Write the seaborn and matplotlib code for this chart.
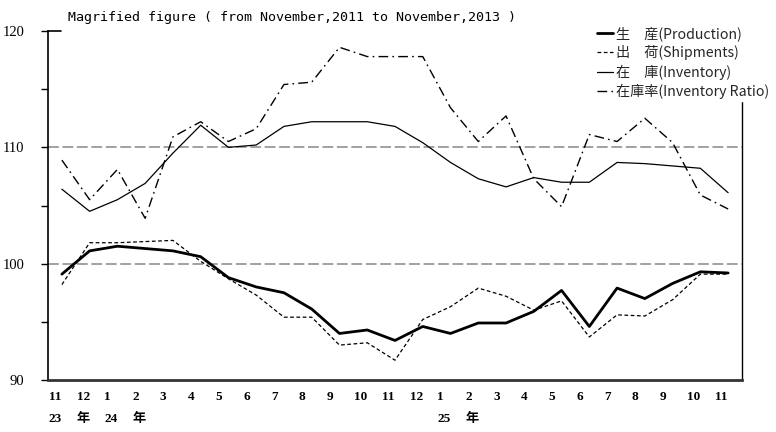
import numpy as np
import pandas as pd
import seaborn as sns
import matplotlib.pyplot as plt
import matplotlib.transforms as mtransforms
from matplotlib.font_manager import FontProperties

# month / year labels under the axis (Nov 2011 .. Nov 2013)
month_labels = ['11', '12', '1', '2', '3', '4', '5', '6', '7', '8', '9', '10', '11',
                '12', '1', '2', '3', '4', '5', '6', '7', '8', '9', '10', '11']
year_labels = ['23', '年', '24', '年', '', '', '', '', '', '', '', '', '',
               '', '25', '年', '', '', '', '', '', '', '', '', '']

production = [99.1, 101.1, 101.5, 101.3, 101.1, 100.6, 98.8, 98.0, 97.5, 96.1, 94.0, 94.3, 93.4,
              94.6, 94.0, 94.9, 94.9, 95.9, 97.7, 94.6, 97.9, 97.0, 98.3, 99.3, 99.2]
shipments = [98.2, 101.8, 101.8, 101.9, 102.0, 100.2, 98.7, 97.3, 95.4, 95.4, 93.0, 93.2, 91.7,
             95.2, 96.3, 97.9, 97.2, 96.0, 96.8, 93.7, 95.6, 95.5, 96.9, 99.1, 99.1]
inventory = [106.4, 104.5, 105.5, 106.9, 109.5, 111.9, 110.0, 110.2, 111.8, 112.2, 112.2, 112.2, 111.8,
             110.4, 108.7, 107.3, 106.6, 107.4, 107.0, 107.0, 108.7, 108.6, 108.4, 108.2, 106.1]
inv_ratio = [108.9, 105.5, 108.1, 103.9, 110.9, 112.2, 110.5, 111.6, 115.4, 115.6, 118.6, 117.8, 117.8,
             117.8, 113.4, 110.5, 112.7, 107.3, 104.9, 111.1, 110.5, 112.5, 110.4, 105.9, 104.7]

series_names = ['生\u3000産(Production)', '出\u3000荷(Shipments)', '在\u3000庫(Inventory)', '在庫率(Inventory Ratio)']

df = pd.DataFrame({'x': np.arange(len(month_labels)),
                   series_names[0]: production,
                   series_names[1]: shipments,
                   series_names[2]: inventory,
                   series_names[3]: inv_ratio})

sns.set_theme(style='white')
plt.rcParams['font.family'] = ['DejaVu Sans', 'Noto Sans CJK JP']

fig = plt.figure(figsize=(7.76, 4.32), dpi=100)
ax = fig.add_axes([48 / 776, 52 / 432, 694 / 776, 349 / 432])

# reference lines
for yv in [100, 110]:
    ax.axhline(yv, color='#9a9a9a', lw=1.3, linestyle=(0, (6, 2)), zorder=1)

styles = [dict(lw=2.0, linestyle='-'),
          dict(lw=0.9, linestyle=(0, (3, 2))),
          dict(lw=0.9, linestyle='-'),
          dict(lw=1.0, linestyle=(0, (7, 3, 1.2, 3)))]
for name, st in zip(series_names, styles):
    sns.lineplot(data=df, x='x', y=name, ax=ax, color='black', label=name, zorder=3, **st)

ax.set_xlim(-0.5, len(month_labels) - 0.5)
ax.set_ylim(90, 120)
ax.set_xlabel('')
ax.set_ylabel('')

# spines
ax.spines['top'].set_visible(False)
ax.spines['left'].set_color('black')
ax.spines['left'].set_linewidth(1.2)
ax.spines['right'].set_color('black')
ax.spines['right'].set_linewidth(1.0)
ax.spines['bottom'].set_color('#333333')
ax.spines['bottom'].set_linewidth(2.0)

# y axis
yt = [90, 95, 100, 105, 110, 115, 120]
ax.set_yticks(yt)
ax.set_yticklabels([str(v) if v % 10 == 0 else '' for v in yt],
                   fontfamily='Liberation Serif', fontsize=10.5, color='black')
ax.tick_params(axis='y', direction='out', length=5, width=1, color='black', pad=12, left=True)
ax.axhline(120, xmin=0, xmax=13 / 694, color='black', lw=1.2, clip_on=False)

# x labels (two rows)
ax.set_xticks([])
trans = mtransforms.blended_transform_factory(ax.transData, fig.transFigure)
xlab_font = ['Liberation Serif', 'Noto Sans CJK JP']
for i, (m, y) in enumerate(zip(month_labels, year_labels)):
    ax.text(i - 0.47, 1 - 397 / 432, m, transform=trans, ha='left', va='center',
            fontsize=9.5, fontweight='bold', family=xlab_font, color='black')
    if y:
        ax.text(i - 0.47, 1 - 419 / 432, y, transform=trans, ha='left', va='center',
                fontsize=9.5, fontweight='bold', family=xlab_font, color='black')

# title
fig.text(68 / 776, 1 - 17 / 432, 'Magrified figure ( from November,2011 to November,2013 )',
         family='DejaVu Sans Mono', fontsize=9.6, va='center', ha='left', color='black')

# legend
handles, labels = ax.get_legend_handles_labels()
leg = ax.legend(handles, labels, loc='upper left',
                bbox_to_anchor=(595 / 776, 1 - 24 / 432), bbox_transform=fig.transFigure,
                frameon=True, framealpha=1, facecolor='white', edgecolor='white',
                prop=FontProperties(family=['Noto Sans CJK JP'], size=10.2),
                handlelength=1.15, handletextpad=0.2, labelspacing=0.3,
                borderpad=0.15, borderaxespad=0)
leg.set_zorder(5)

fig.savefig('out.png', dpi=100)
